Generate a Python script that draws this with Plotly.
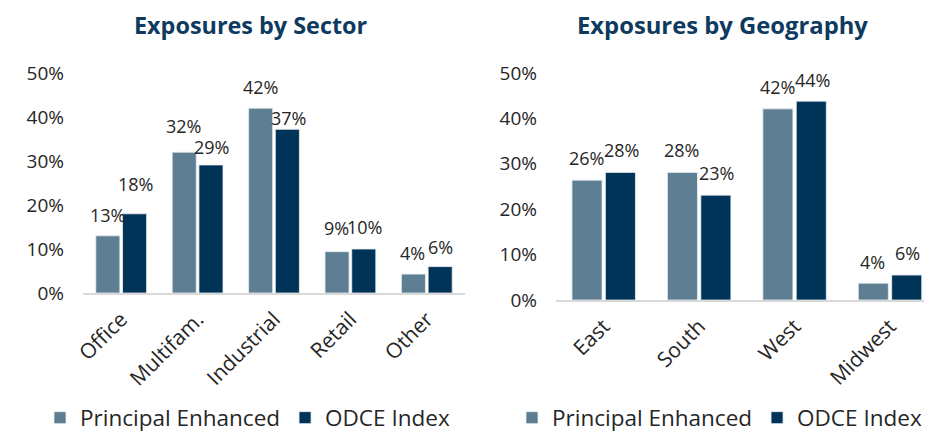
import plotly.graph_objects as go

sectors = ["Office", "Multifam.", "Industrial", "Retail", "Other"]
sector_pe = [0.13, 0.32, 0.42, 0.094, 0.043]
sector_odce = [0.18, 0.291, 0.372, 0.10, 0.06]
sector_pe_lbl = ["13%", "32%", "42%", "9%", "4%"]
sector_odce_lbl = ["18%", "29%", "37%", "10%", "6%"]

regions = ["East", "South", "West", "Midwest"]
region_pe = [0.264, 0.281, 0.421, 0.037]
region_odce = [0.281, 0.231, 0.438, 0.055]
region_pe_lbl = ["26%", "28%", "42%", "4%"]
region_odce_lbl = ["28%", "23%", "44%", "6%"]

series_names = ["Principal Enhanced", "ODCE Index"]
y_ticks = [0, 0.1, 0.2, 0.3, 0.4, 0.5]
y_tick_text = ["0%", "10%", "20%", "30%", "40%", "50%"]

# label nudges (pixels above bar top), as placed in the original slide
sector_pe_dy = [21, 26, 21, 24, 21]
sector_odce_dy = [30, 18, 11, 22, 20]
region_pe_dy = [22, 22, 22, 21]
region_odce_dy = [22, 22, 21, 22]

C_PE = "#5E7F93"
C_ODCE = "#003358"
C_TITLE = "#0D3A5E"
FONT = "Open Sans"
TXT = "#262626"

# page has an 8px body margin; figure sized so the page does not scroll
OFF = 8
W, H = 932 - OFF, 440 - 2 * OFF


def px(X):
    return (X - OFF) / W


def py(Y):
    return 1 - (Y - OFF) / H


fig = go.Figure()
bar_line = dict(color="#E8EDF0", width=0.8)
fig.add_trace(go.Bar(x=sectors, y=sector_pe, name=series_names[0], marker_color=C_PE,
                     marker_line=bar_line, xaxis="x", yaxis="y", legend="legend"))
fig.add_trace(go.Bar(x=sectors, y=sector_odce, name=series_names[1], marker_color=C_ODCE,
                     marker_line=bar_line, xaxis="x", yaxis="y", legend="legend"))
fig.add_trace(go.Bar(x=regions, y=region_pe, name=series_names[0], marker_color=C_PE,
                     marker_line=bar_line, xaxis="x2", yaxis="y2", legend="legend2"))
fig.add_trace(go.Bar(x=regions, y=region_odce, name=series_names[1], marker_color=C_ODCE,
                     marker_line=bar_line, xaxis="x2", yaxis="y2", legend="legend2"))

LBL = dict(size=18, color=TXT, family=FONT)
annotations = []


def add_labels(cats, vals, lbls, dys, xref, yref, xshift):
    for cat, v, t, dy in zip(cats, vals, lbls, dys):
        annotations.append(dict(x=cat, y=v, xref=xref, yref=yref, text=t, showarrow=False,
                                xshift=xshift, yshift=dy, yanchor="middle", font=LBL))


add_labels(sectors, sector_pe, sector_pe_lbl, sector_pe_dy, "x", "y", -14)
add_labels(sectors, sector_odce, sector_odce_lbl, sector_odce_dy, "x", "y", 14)
add_labels(regions, region_pe, region_pe_lbl, region_pe_dy, "x2", "y2", -17.5)
add_labels(regions, region_odce, region_odce_lbl, region_odce_dy, "x2", "y2", 17.5)

annotations.append(dict(x=px(251), y=py(25), xref="paper", yref="paper",
                        xanchor="center", yanchor="middle",
                        text="<b>Exposures by Sector</b>", showarrow=False,
                        font=dict(size=23.4, color=C_TITLE, family=FONT)))
annotations.append(dict(x=px(722), y=py(25), xref="paper", yref="paper",
                        xanchor="center", yanchor="middle",
                        text="<b>Exposures by Geography</b>", showarrow=False,
                        font=dict(size=23.8, color=C_TITLE, family=FONT)))
annotations.append(dict(x=px(921), y=py(402), xref="paper", yref="paper",
                        text="2", showarrow=False, xanchor="left", yanchor="middle",
                        font=dict(size=19, color=TXT, family=FONT)))

ax_common = dict(showgrid=False, zeroline=False, showline=True, linecolor="#D9D9D9",
                 linewidth=1.5, ticks="", tickangle=-45, automargin=False,
                 ticklabelstandoff=4,
                 tickfont=dict(size=21, color=TXT, family=FONT), type="category")
ay_common = dict(showgrid=False, zeroline=False, showline=False, range=[0, 0.5],
                 tickvals=y_ticks, ticktext=y_tick_text, ticks="", automargin=False,
                 tickfont=dict(size=19, color=TXT, family=FONT), ticklabelstandoff=18)

LEG_FONT = dict(size=22.5, color=TXT, family=FONT)
fig.update_layout(
    width=W, height=H,
    margin=dict(l=0, r=0, t=0, b=0, autoexpand=False),
    paper_bgcolor="white", plot_bgcolor="white",
    barmode="group", bargap=0.3, bargroupgap=0.1,
    xaxis=dict(domain=[px(83), px(465)], anchor="y", range=[-0.5, 4.5], **ax_common),
    yaxis=dict(domain=[py(293), py(73)], anchor="x", **ay_common),
    xaxis2=dict(domain=[px(556), 1.0], anchor="y2", range=[-0.5, 3.44], **ax_common),
    yaxis2=dict(domain=[py(300), py(73)], anchor="x2", **ay_common),
    legend=dict(orientation="h", x=px(40), y=py(418), xanchor="left", yanchor="middle",
                font=LEG_FONT, bgcolor="rgba(0,0,0,0)"),
    legend2=dict(orientation="h", x=px(512), y=py(418), xanchor="left", yanchor="middle",
                 font=LEG_FONT, bgcolor="rgba(0,0,0,0)"),
    annotations=annotations,
    showlegend=True,
)

fig.write_html("out.html")
